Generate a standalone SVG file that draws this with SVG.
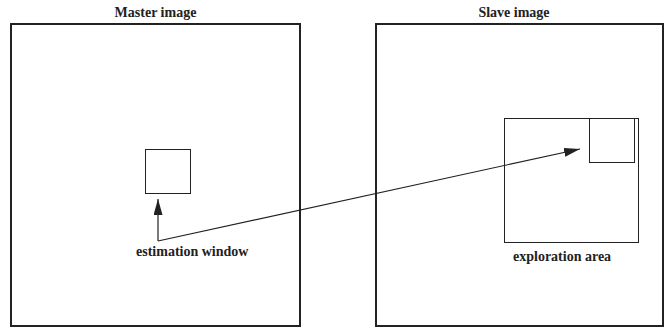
<svg xmlns="http://www.w3.org/2000/svg" width="669" height="330" viewBox="0 0 669 330">
  <style>
    .frame { fill: none; stroke: #222; stroke-width: 2; }
    .box { fill: none; stroke: #222; stroke-width: 1; }
    .conn { fill: none; stroke: #222; stroke-width: 1.2; }
    .lbl { font-family: "Liberation Serif", "Times New Roman", serif; font-weight: bold; font-size: 14px; fill: #222; }
  </style>
  <defs>
    <marker id="arrow" markerUnits="userSpaceOnUse" markerWidth="16" markerHeight="9" refX="16" refY="4.5" orient="auto">
      <path d="M0,0 L16,4.5 L0,9 z" fill="#222"/>
    </marker>
  </defs>
  <rect width="669" height="330" fill="#fff"/>
  <g id="master">
    <rect class="frame" x="11" y="24" width="289" height="302"/>
    <text class="lbl" x="155.5" y="17" text-anchor="middle">Master image</text>
  </g>
  <g id="slave">
    <rect class="frame" x="376" y="24" width="287" height="302"/>
    <text class="lbl" x="514" y="17" text-anchor="middle">Slave image</text>
  </g>
  <g id="estimation-window">
    <rect class="box" x="145.5" y="149.5" width="45" height="44"/>
    <text class="lbl" x="136" y="256">estimation window</text>
  </g>
  <g id="exploration-area">
    <rect class="box" x="504.5" y="118.5" width="134" height="124"/>
    <text class="lbl" x="513" y="261">exploration area</text>
  </g>
  <g id="target-window">
    <rect class="box" x="589.5" y="118.5" width="45" height="44"/>
  </g>
  <g id="connectors">
    <path class="conn" d="M158,241 L158,199" marker-end="url(#arrow)"/>
    <path class="conn" d="M158,241 L580,149" marker-end="url(#arrow)"/>
  </g>
</svg>
